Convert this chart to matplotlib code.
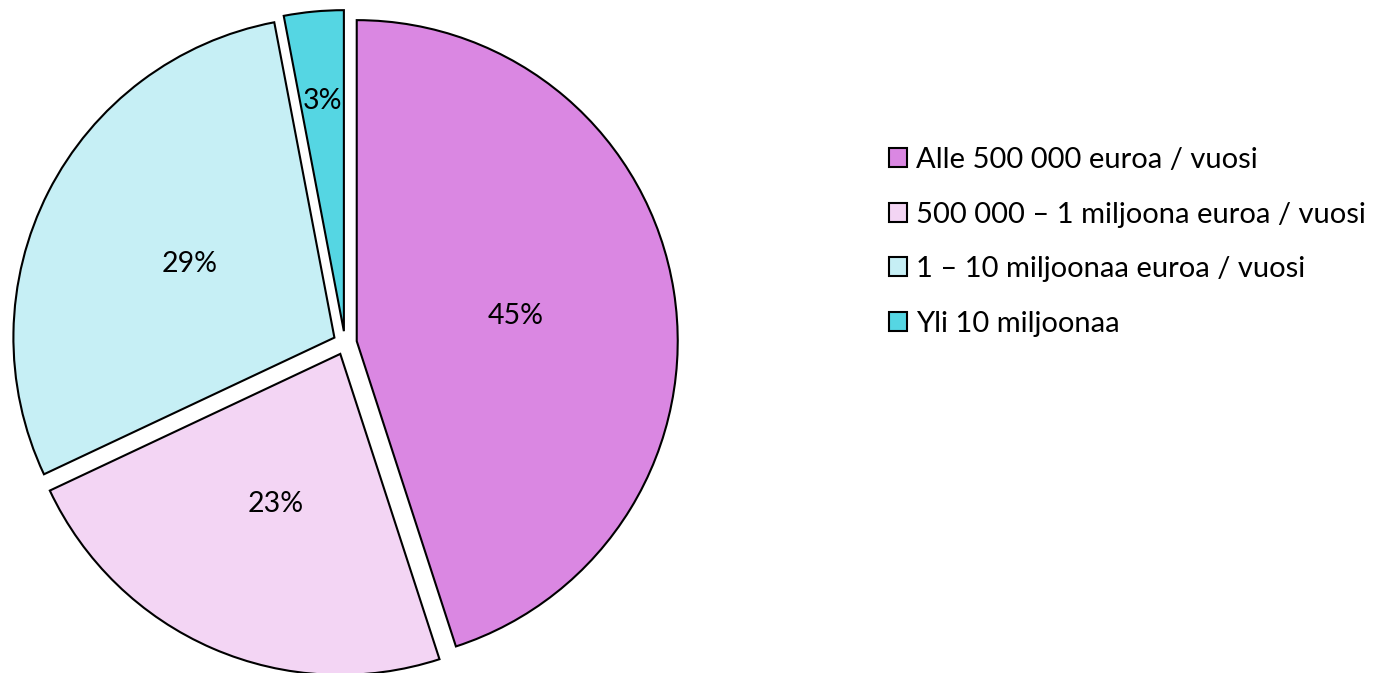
import matplotlib
matplotlib.use("Agg")
import matplotlib.pyplot as plt
import numpy as np

categories = ["Alle 500 000 euroa / vuosi",
              "500 000 – 1 miljoona euroa / vuosi",
              "1 – 10 miljoonaa euroa / vuosi",
              "Yli 10 miljoonaa"]
values = [45, 23, 29, 3]
labels_pct = ["45%", "23%", "29%", "3%"]
colors = ["#DA87E2", "#F3D5F4", "#C6EFF5", "#55D6E3"]
label_dist = [0.50, 0.51, 0.505, 0.72]

plt.rcParams['font.family'] = ['Lato', 'DejaVu Sans']

W, H = 1378, 673
fig = plt.figure(figsize=(W/100, H/100), dpi=100)
cx, cy, R = 345, 330, 321
half_w, half_h = 340, 330
ax = fig.add_axes([(cx-half_w)/W, (cy-half_h)/H, 2*half_w/W, 2*half_h/H])

explode = [0.037]*len(values)
wedges, _ = ax.pie(values, colors=colors, startangle=90, counterclock=False,
                   explode=explode, radius=1.0,
                   wedgeprops=dict(edgecolor='black', linewidth=1.5))
ax.set_xlim(-half_w/R, half_w/R)
ax.set_ylim(-half_h/R, half_h/R)
ax.set_aspect('equal')
ax.axis('off')

for w, t, d in zip(wedges, labels_pct, label_dist):
    ang = np.deg2rad((w.theta1 + w.theta2) / 2)
    x0, y0 = w.center
    ax.text(x0 + d*np.cos(ang), y0 + d*np.sin(ang), t,
            ha='center', va='center', fontsize=20.5, color='black')

leg = fig.legend(wedges, categories, loc='upper left',
                 bbox_to_anchor=(889/W, 1 - 147/H), frameon=False,
                 fontsize=21, handlelength=0.62, handleheight=0.62,
                 handletextpad=0.3, labelspacing=0.98, borderpad=0, borderaxespad=0)
for h in leg.legend_handles:
    h.set_linewidth(1.5)
    h.set_edgecolor('black')

fig.savefig("out.png", dpi=100)
